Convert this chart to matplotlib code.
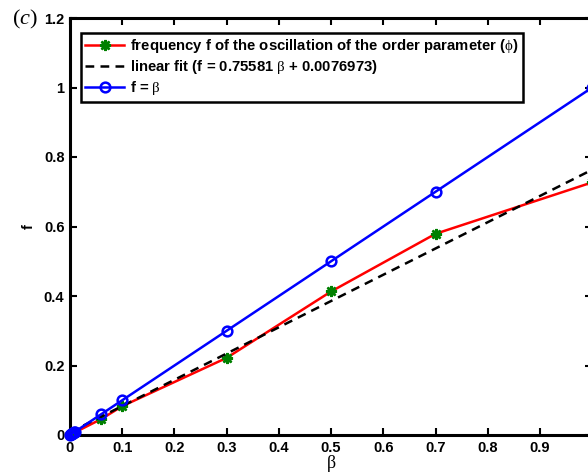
import numpy as np
import matplotlib.pyplot as plt

plt.rcParams["font.family"] = ["Liberation Sans", "DejaVu Sans"]
plt.rcParams["mathtext.fontset"] = "custom"
plt.rcParams["mathtext.rm"] = "Liberation Serif"
plt.rcParams["mathtext.it"] = "Liberation Serif:italic"

# measured frequency of the order-parameter oscillation
beta = [0.0, 0.002, 0.004, 0.006, 0.008, 0.01, 0.06, 0.1, 0.3, 0.5, 0.7, 1.0]
freq = [0.0, 0.0015, 0.003, 0.0045, 0.006, 0.008, 0.046, 0.083, 0.222, 0.413, 0.579, 0.727]

# reference line f = beta
beta_ref = [0.0, 0.002, 0.004, 0.006, 0.008, 0.01, 0.06, 0.1, 0.3, 0.5, 0.7, 1.0]
f_ref = [0.0, 0.002, 0.004, 0.006, 0.008, 0.01, 0.06, 0.1, 0.3, 0.5, 0.7, 1.0]

# linear fit coefficients
fit_slope = 0.75581
fit_icpt = 0.0076973

xticks = [0, 0.1, 0.2, 0.3, 0.4, 0.5, 0.6, 0.7, 0.8, 0.9]
yticks = [0, 0.2, 0.4, 0.6, 0.8, 1.0, 1.2]
ytick_labels = ["0", "0.2", "0.4", "0.6", "0.8", "1", "1.2"]

fig = plt.figure(figsize=(5.88, 4.75), dpi=100)
ax = fig.add_axes([70 / 588, 40 / 475, 522.2 / 588, 417 / 475])

ax.plot(beta, freq, color="red", lw=1.8, marker=(8, 2, 0), ms=8,
        mec="green", mfc="green", mew=1.8, clip_on=False, zorder=3,
        label="frequency f of the oscillation of the order parameter ($\\mathrm{\\phi}$)")
xfit = np.array([0.0, 1.0])
ax.plot(xfit, fit_slope * xfit + fit_icpt, color="black", lw=1.8, ls=(0, (3.5, 2.5)),
        zorder=3, label="linear fit (f = 0.75581 $\\mathrm{\\beta}$ + 0.0076973)")
ax.plot(beta_ref, f_ref, color="blue", lw=1.8, marker="o", ms=7,
        mfc="none", mec="blue", mew=1.8, clip_on=False, zorder=3,
        label="f = $\\mathrm{\\beta}$")

ax.set_xlim(0, 1)
ax.set_ylim(0, 1.2)
ax.set_xticks(xticks)
ax.set_xticklabels([f"{t:g}" for t in xticks])
ax.set_yticks(yticks)
ax.set_yticklabels(ytick_labels)
ax.tick_params(direction="in", length=5, width=1.5, top=True, right=True,
               labelsize=10.5, pad=4)
for lbl in ax.get_xticklabels() + ax.get_yticklabels():
    lbl.set_fontweight("bold")
for sp in ax.spines.values():
    sp.set_linewidth(2.2)

ax.set_xlabel("$\\mathrm{\\beta}$", fontsize=13, labelpad=-1)
ax.set_ylabel("f", fontsize=10.5, fontweight="bold", labelpad=6)

leg = ax.legend(loc="upper left", bbox_to_anchor=(0.021, 0.964), borderaxespad=0,
                fancybox=False, framealpha=1, edgecolor="black", handlelength=2.6,
                borderpad=0.3, labelspacing=0.2, handletextpad=0.4,
                prop={"weight": "bold", "size": 10.7})
leg.get_frame().set_linewidth(1.8)

fig.text(12 / 588, 1 - 19 / 475, "$(c)$", fontsize=16, va="center", ha="left")

fig.savefig("out.png", dpi=100)
